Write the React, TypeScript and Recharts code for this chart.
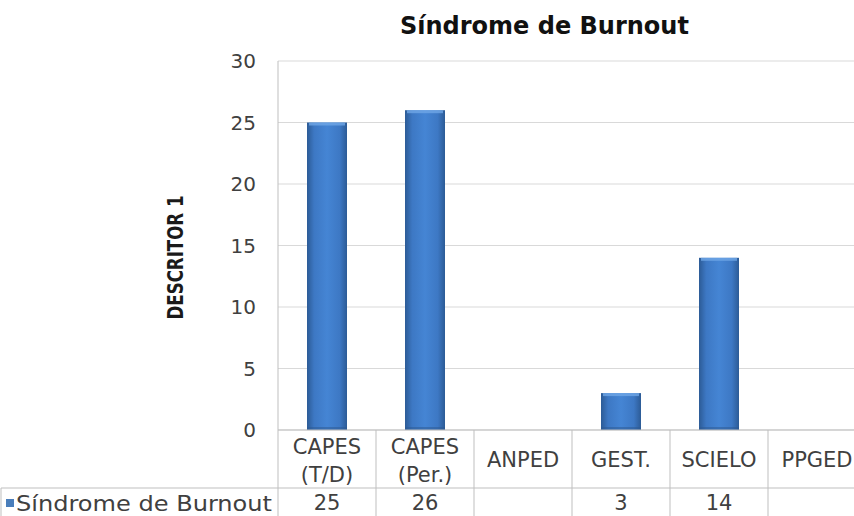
import React from 'react';
import { BarChart, Bar, XAxis, YAxis, CartesianGrid, Label } from 'recharts';

const categories = ['CAPES (T/D)', 'CAPES (Per.)', 'ANPED', 'GEST.', 'SCIELO', 'PPGED'];
const burnoutValues: (number | null)[] = [25, 26, null, 3, 14, null];
const yTicks = [0, 5, 10, 15, 20, 25, 30];
const seriesName = 'Síndrome de Burnout';

const data = categories.map((name, i) => ({ name, value: burnoutValues[i] }));

const CHART_W = 870;
const CHART_H = 540;
const MARGIN = { top: 61, right: 4, left: 140, bottom: 0 };
const Y_AXIS_W = 138;
const BAND = (CHART_W - MARGIN.left - MARGIN.right - Y_AXIS_W) / categories.length;
const LINE = '#BFBFBF';
const TEXT = '#404040';
const FONT = '"DejaVu Sans", sans-serif';

const GradientBar = (props: any) => {
    const { x, y, width, height } = props;
    if (!height || height <= 0) return null;
    return (
        <g>
            <rect x={x} y={y} width={width} height={height} fill="url(#barFill)" />
            <rect x={x + 2} y={y} width={width - 4} height={3} fill="#6FA6E6" opacity={0.8} />
            <rect x={x} y={y + height - 3} width={width} height={3} fill="#2B5790" opacity={0.5} />
        </g>
    );
};

const TableTick = (props: any) => {
    const { x, y, payload, index } = props;
    const half = BAND / 2;
    const lines = String(payload.value).split(' ');
    const v = burnoutValues[index];
    const textProps = { fill: TEXT, fontSize: 21, fontFamily: FONT, textAnchor: 'middle' as const, dominantBaseline: 'central' as const };
    return (
        <g>
            <line x1={x + half} y1={y} x2={x + half} y2={y + 110} stroke={LINE} />
            <line x1={x - half} y1={y + 58} x2={x + half} y2={y + 58} stroke={LINE} />
            {index === 0 && (
                <g>
                    <line x1={x - half} y1={y} x2={x - half} y2={y + 110} stroke={LINE} />
                    <line x1={1} y1={y + 58} x2={x - half} y2={y + 58} stroke={LINE} />
                    <line x1={1} y1={y + 58} x2={1} y2={y + 110} stroke={LINE} />
                    <rect x={6} y={y + 69} width={8} height={8} fill="#4A7EBB" />
                    <text
                        x={16}
                        y={y + 73}
                        fill={TEXT}
                        fontSize={22}
                        fontFamily={FONT}
                        dominantBaseline="central"
                        textLength={256}
                        lengthAdjust="spacingAndGlyphs"
                    >
                        {seriesName}
                    </text>
                </g>
            )}
            {lines.length > 1 ? (
                <g>
                    <text x={x} y={y + 17} {...textProps}>{lines[0]}</text>
                    <text x={x} y={y + 45} {...textProps}>{lines[1]}</text>
                </g>
            ) : (
                <text x={x} y={y + 30} {...textProps}>{lines[0]}</text>
            )}
            {v != null && <text x={x} y={y + 73} {...textProps}>{v}</text>}
        </g>
    );
};

const YLabel = (props: any) => {
    const { viewBox } = props;
    const cx = viewBox.x + 36;
    const cy = viewBox.y + viewBox.height / 2 + 12;
    return (
        <text
            x={cx}
            y={cy}
            transform={`rotate(-90, ${cx}, ${cy})`}
            textAnchor="middle"
            dominantBaseline="central"
            fontFamily={FONT}
            fontWeight="bold"
            fontSize={21}
            fill="#1a1a1a"
            textLength={124}
            lengthAdjust="spacingAndGlyphs"
        >
            DESCRITOR 1
        </text>
    );
};

export default function App() {
    return (
        <div
            style={{
                position: 'fixed',
                left: 0,
                top: 0,
                width: 854,
                height: 516,
                overflow: 'hidden',
                background: '#fff',
            }}
        >
            <div
                style={{
                    position: 'absolute',
                    left: 400,
                    width: 286,
                    top: 12,
                    textAlign: 'center',
                    fontFamily: FONT,
                    fontWeight: 'bold',
                    fontSize: 24,
                    color: '#111',
                    whiteSpace: 'nowrap',
                }}
            >
                Síndrome de Burnout
            </div>
            <BarChart width={CHART_W} height={CHART_H} data={data} margin={MARGIN}>
                <defs>
                    <linearGradient id="barFill" x1="0" y1="0" x2="1" y2="0">
                        <stop offset="0%" stopColor="#2C5B96" />
                        <stop offset="18%" stopColor="#3D78C4" />
                        <stop offset="50%" stopColor="#4585D4" />
                        <stop offset="82%" stopColor="#3D78C4" />
                        <stop offset="100%" stopColor="#2C5B96" />
                    </linearGradient>
                </defs>
                <CartesianGrid vertical={false} stroke="#D9D9D9" />
                <XAxis
                    dataKey="name"
                    interval={0}
                    height={CHART_H - 430}
                    tickLine={false}
                    tickSize={0}
                    tickMargin={0}
                    axisLine={{ stroke: LINE }}
                    tick={<TableTick />}
                />
                <YAxis
                    width={Y_AXIS_W}
                    domain={[0, 30]}
                    ticks={yTicks}
                    tickLine={false}
                    tickSize={0}
                    tickMargin={22}
                    axisLine={{ stroke: LINE }}
                    tick={{ fill: TEXT, fontSize: 20, fontFamily: FONT }}
                >
                    <Label content={<YLabel />} />
                </YAxis>
                <Bar
                    dataKey="value"
                    name={seriesName}
                    barSize={40}
                    shape={<GradientBar />}
                    isAnimationActive={false}
                />
            </BarChart>
        </div>
    );
}
